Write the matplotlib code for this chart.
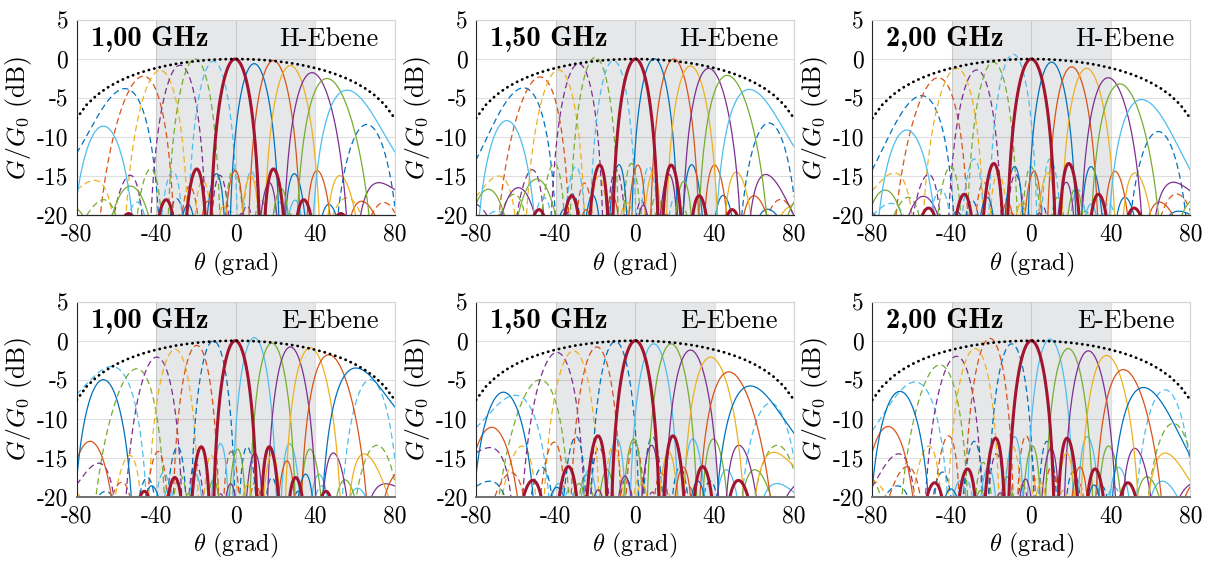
import numpy as np
import matplotlib.pyplot as plt

plt.rcParams['font.family'] = 'cmr10'
plt.rcParams['mathtext.fontset'] = 'cm'
plt.rcParams['axes.unicode_minus'] = False

# MATLAB default colour order
colors = ['#0072BD', '#D95319', '#EDB120', '#7E2F8E', '#77AC30', '#4DBEEE', '#A2142F']

freq_labels = ['1,00 GHz', '1,50 GHz', '2,00 GHz']
plane_labels = ['H-Ebene', 'E-Ebene']

# dotted envelope (element pattern), read every 5 deg
env_deg = list(range(-80, 85, 5))
env_half = [0, -0.02, -0.07, -0.15, -0.27, -0.43, -0.62, -0.87, -1.16, -1.5,
            -1.92, -2.41, -3.01, -3.74, -4.66, -5.87, -7.6]
env_db = env_half[:0:-1] + env_half

# beam colour / dashed flag, ordered from left to right
h_color = [0, 1, 2, 3, 4, 5, 6, 0, 1, 2, 3, 4, 5]
e_color = [5, 4, 3, 2, 1, 0, 6, 5, 4, 3, 2, 1, 0]
dashed = [1, 1, 1, 1, 1, 1, 0, 0, 0, 0, 0, 0, 0]

# main beam peaks (deg, dB)
h1_deg = [-55.7, -46.4, -38.0, -28.0, -20.4, -11.2, -0.3, 9.3, 19.0, 27.5, 38.4, 45.9, 56.0]
h1_db = [-3.8, -2.2, -1.45, -0.8, 0.0, -0.3, 0.0, -0.6, -0.2, -0.85, -1.75, -2.5, -4.0]
h15_deg = [-56.1, -47.7, -38.5, -28.4, -20.0, -10.8, 0.2, 9.7, 19.5, 27.9, 37.1, 46.4, 57.5]
h15_db = [-3.7, -2.3, -1.4, -0.6, 0.2, -0.2, 0.0, 0.05, 0.0, -0.9, -1.2, -2.1, -3.9]
h2_deg = [-55.2, -46.8, -37.6, -27.5, -19.1, -9.1, 0.0, 10.2, 20.3, 27.8, 38.7, 44.6, 55.5]
h2_db = [-4.7, -2.4, -1.2, -1.4, -0.4, 0.6, 0.0, -0.4, -1.0, -1.2, -2.4, -3.2, -5.2]
e1_deg = [-62.4, -49.8, -39.7, -30.5, -19.6, -11.2, -0.2, 9.3, 18.2, 27.5, 37.5, 46.8, 60.5]
e1_db = [-3.3, -3.6, -2.1, -1.1, -0.6, 0.0, 0.0, 0.4, -0.3, -0.8, -0.9, -1.8, -3.5]
e15_deg = [-60.3, -47.7, -39.3, -30.9, -19.2, -9.9, 0.2, 9.4, 18.2, 27.9, 38.0, 47.2, 58.0]
e15_db = [-7.0, -5.0, -1.5, -1.3, -0.8, -0.1, 0.0, -0.4, -0.4, -1.2, -2.1, -4.0, -5.8]
e2_deg = [-58.5, -46.0, -37.6, -28.3, -20.8, -9.9, 0.0, 9.4, 18.6, 28.7, 37.9, 46.3, 56.4]
e2_db = [-5.3, -3.1, -2.0, -1.0, 0.3, -0.4, 0.0, 0.2, -1.0, -1.3, -1.9, -3.7, -6.0]

# extra (grating) lobes: beam index, deg, dB
h1_extra = [(12, -66.6, -8.6), (0, 66.0, -8.4), (1, 74.5, -18.4), (11, -82.0, -19.0),
            (11, -53.0, -16.3), (2, 56.0, -17.8)]
h15_extra = [(12, -64.5, -7.9), (0, 67.4, -8.2), (1, 73.3, -18.0), (11, -73.8, -16.7),
             (10, -58.7, -16.5), (11, -49.4, -15.4)]
h2_extra = [(12, -62.7, -9.1), (0, 63.9, -9.3), (1, 73.1, -17.3), (11, -73.6, -16.8),
            (10, -54.3, -17.6)]
e1_extra = [(12, -66.6, -5.0), (0, 67.7, -5.0), (11, -73.3, -12.9), (1, 71.1, -13.4)]
e15_extra = [(12, -66.2, -6.6), (11, -72.1, -11.1), (0, 68.2, -8.0), (1, 71.6, -13.4)]
e2_extra = [(12, -66.1, -6.5), (11, -72.0, -11.0), (0, 67.3, -6.3), (1, 71.4, -10.6),
            (10, 68.0, -18.7)]

# main lobe null half width (in sin(theta)) and sidelobe shift (dB) per panel
h_du = [0.23, 0.215, 0.225]
e_du = [0.205, 0.225, 0.215]
h_slshift = [-1.3, -0.8, -0.6]
e_slshift = [-0.8, 0.6, 0.3]
SL_DECAY = 0.3      # dB per further sidelobe
GRATING_WIDEN = 1.4  # grating lobes, width relative to broadside

panels = [
    [(h1_deg, h1_db, h1_extra), (h15_deg, h15_db, h15_extra), (h2_deg, h2_db, h2_extra)],
    [(e1_deg, e1_db, e1_extra), (e15_deg, e15_db, e15_extra), (e2_deg, e2_db, e2_extra)],
]

N_EL = 8
theta = np.linspace(-90, 90, 3601)
u = np.sin(np.radians(theta))


def lobe(d, level, du, slshift):
    # one period of an 8 element array factor, d = offset in sin space
    period = N_EL * du
    x = np.pi * d / period
    with np.errstate(divide='ignore', invalid='ignore'):
        af = np.abs(np.sin(N_EL * x) / (N_EL * np.sin(x)))
    af = np.where(np.abs(x) < 1e-9, 1.0, af)
    g = level + 20 * np.log10(af + 1e-9)
    r = np.abs(d) / du
    g = np.where(r > 1, g + slshift - SL_DECAY * np.clip(r - 1.43, 0, None), g)
    return np.where(np.abs(d) > period / 2, -100.0, g)


W, H = 1215, 563
fig = plt.figure(figsize=(W / 100, H / 100), dpi=100)
col_left = [76.7, 476.0, 872.3]
row_top = [20.0, 301.7]
ax_w, ax_h = 318.0, 195.0

for r in range(2):
    cidx = h_color if r == 0 else e_color
    dus = h_du if r == 0 else e_du
    shifts = h_slshift if r == 0 else e_slshift
    for c in range(3):
        ax = fig.add_axes([col_left[c] / W, (H - row_top[r] - ax_h) / H, ax_w / W, ax_h / H])
        beam_deg, beam_db, extra = panels[r][c]
        ax.axvspan(-40, 40, color='#e6e7e9', lw=0, zorder=0.2)

        order = [i for i in range(13) if dashed[i]] + [i for i in range(13) if not dashed[i] and cidx[i] != 6] + [6]
        for i in order:
            g = lobe(u - np.sin(np.radians(beam_deg[i])), beam_db[i], dus[c], shifts[c])
            for (b, d, lv) in extra:
                if b == i:
                    dx = np.sin(np.radians(theta - d)) / GRATING_WIDEN
                    g = np.maximum(g, lobe(dx, lv, dus[c], shifts[c]))
            g = np.maximum(g, -40)
            col = colors[cidx[i]]
            if cidx[i] == 6:
                ax.plot(theta, g, color=col, lw=2.2, zorder=2.5)
            elif dashed[i]:
                ax.plot(theta, g, color=col, lw=0.9, dashes=(5, 3), zorder=2)
            else:
                ax.plot(theta, g, color=col, lw=0.9, zorder=2)

        ax.plot(env_deg, env_db, color='black', lw=2.0, linestyle=(0, (0.1, 1.9)),
                dash_capstyle='round', zorder=3)

        ax.set_xlim(-80, 80)
        ax.set_ylim(-20, 5)
        ax.set_xticks([-80, -40, 0, 40, 80], ['-80', '-40', '0', '40', '80'])
        ax.set_yticks([-20, -15, -10, -5, 0, 5], ['-20', '-15', '-10', '-5', '0', '5'])
        ax.tick_params(length=0, labelsize=17, pad=6)
        ax.grid(True, color=(0.15, 0.15, 0.15), alpha=0.15, lw=0.8)
        ax.set_axisbelow(True)
        for s in ['top', 'right']:
            ax.spines[s].set_color('#d4d4d4')
            ax.spines[s].set_linewidth(0.8)
        ax.spines['left'].set_color('#262626')
        ax.spines['left'].set_linewidth(0.8)
        ax.spines['bottom'].set_color('#262626' if r == 0 else '#707070')
        ax.spines['bottom'].set_linewidth(0.9 if r == 0 else 1.4)

        ax.set_xlabel(r'$\theta$ (grad)', fontsize=17.5, labelpad=3)
        ax.set_ylabel(r'$G/G_0$ (dB)', fontsize=18.5, labelpad=2)
        ax.text(-73, 2.5, freq_labels[c], family='cmb10', fontsize=20.5, ha='left', va='center', zorder=4)
        ax.text(72, 2.5, plane_labels[r], fontsize=19, ha='right', va='center', zorder=4)

fig.savefig('out.png', dpi=100)
